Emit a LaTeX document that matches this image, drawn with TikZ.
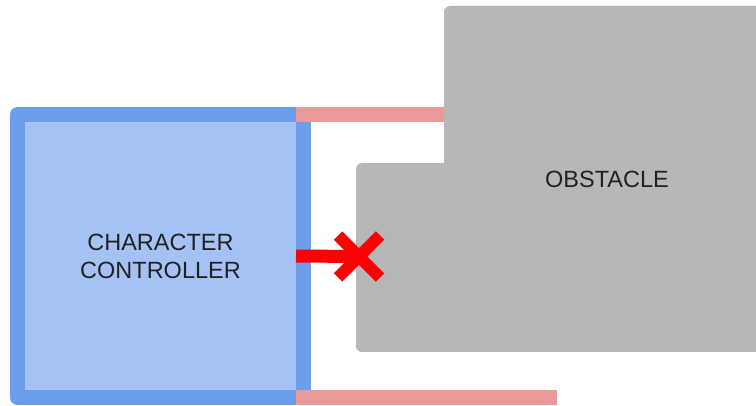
\documentclass[tikz,border=0pt]{standalone}
\usepackage{fontspec}
\setsansfont{Liberation Sans}
\usetikzlibrary{calc,positioning}

\definecolor{ctrlBorder}{HTML}{6D9EEB}
\definecolor{ctrlFill}{HTML}{A4C2F4}
\definecolor{rayPink}{HTML}{EA9999}
\definecolor{obsGray}{HTML}{B7B7B7}
\definecolor{hitRed}{HTML}{FF0000}
\definecolor{labelInk}{HTML}{222222}

\begin{document}
\begin{tikzpicture}[
  x=1pt, y=-1pt,
  font=\sffamily\fontsize{23.5}{28}\selectfont,
  controller/.style={draw=ctrlBorder, fill=ctrlFill, line width=15pt, line join=round,
    minimum width=286pt, minimum height=283pt, inner sep=0pt, outer sep=0pt,
    align=center, text=labelInk},
  block/.style={fill=obsGray, rounded corners=6pt, inner sep=0pt, outer sep=0pt, text=labelInk},
  ray/.style={rayPink, line width=15pt},
  blocked/.style={hitRed, line width=13pt},
  cross/.style={hitRed, line width=12pt}
]

% Canvas, same size as the reference.
\useasboundingbox (0,0) rectangle (756,406);
\clip (0,0) rectangle (756,406);

% Obstacle: two overlapping grey blocks.
\node[block, minimum width=104pt, minimum height=189pt] (obsLow) at (408,257.5) {};
\node[block, minimum width=326pt, minimum height=346pt] (obsTop) at (607,179) {OBSTACLE};

% Character controller box.
\node[controller] (ctrl) at (160.5,256) {CHARACTER\\CONTROLLER};

% Casts along the top and bottom edge.
\coordinate (rayEnd) at (557,397.5);
\draw[ray] ([xshift=-7.5pt]ctrl.north east) -- (ctrl.north east -| obsTop.west);
\draw[ray] ([xshift=-7.5pt]ctrl.south east) -- (rayEnd);

% Blocked cast from the middle, ending in a cross.
\coordinate (hit) at (359,256.5);
\draw[blocked] ([xshift=-7.5pt]ctrl.east) -- (hit);
\draw[cross] ($(hit)+(-21,-21)$) -- ($(hit)+(21,21)$);
\draw[cross] ($(hit)+(-21,21)$) -- ($(hit)+(21,-21)$);

\end{tikzpicture}
\end{document}
